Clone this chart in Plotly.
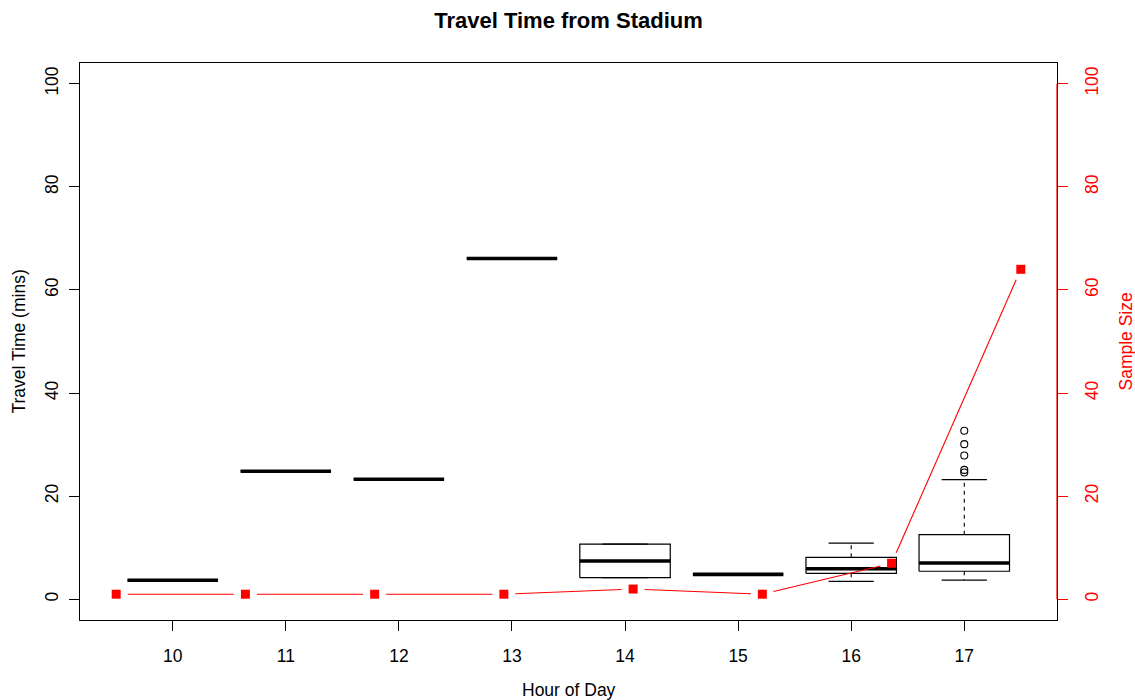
import math
import plotly.graph_objects as go

# Travel time from the stadium by hour of day (minutes)
hours = [10, 11, 12, 13, 14, 15, 16, 17]
tt_low = [3.7, 24.85, 23.3, 66.1, 4.2, 4.85, 3.5, 3.75]      # lower whisker
tt_q1 = [3.7, 24.85, 23.3, 66.1, 4.2, 4.85, 5.05, 5.45]
tt_median = [3.7, 24.85, 23.3, 66.1, 7.45, 4.85, 5.95, 7.05]
tt_q3 = [3.7, 24.85, 23.3, 66.1, 10.7, 4.85, 8.15, 12.55]
tt_high = [3.7, 24.85, 23.3, 66.1, 10.7, 4.85, 10.9, 23.2]   # upper whisker
outlier_hour = [17, 17, 17, 17, 17]
outlier_values = [24.6, 25.1, 27.9, 30.1, 32.7]

# Number of trips observed in each hour
sample_size = [1, 1, 1, 1, 2, 1, 7, 64]

FONT = "Liberation Sans, Arial, sans-serif"
RED = "#FF0000"
W, H = 1135, 700
M = dict(l=80, r=78, t=63, b=80)
Y_RANGE = [-4, 104]
X_RANGE = [0.18, 8.82]
X2_RANGE = [0.72, 8.28]

pos = list(range(1, len(hours) + 1))
HALF_BOX = 0.4
HALF_CAP = 0.2

box_x, box_y = [], []
whisk_x, whisk_y = [], []
cap_x, cap_y = [], []
med_x, med_y = [], []
for p, lo, q1, md, q3, hi in zip(pos, tt_low, tt_q1, tt_median, tt_q3, tt_high):
    box_x += [p - HALF_BOX, p + HALF_BOX, p + HALF_BOX, p - HALF_BOX, p - HALF_BOX, None]
    box_y += [q1, q1, q3, q3, q1, None]
    whisk_x += [p, p, None, p, p, None]
    whisk_y += [q3, hi, None, q1, lo, None]
    cap_x += [p - HALF_CAP, p + HALF_CAP, None, p - HALF_CAP, p + HALF_CAP, None]
    cap_y += [hi, hi, None, lo, lo, None]
    med_x += [p - HALF_BOX, p + HALF_BOX, None]
    med_y += [md, md, None]

out_x = [pos[hours.index(h)] for h in outlier_hour]

fig = go.Figure()
fig.add_trace(go.Scatter(x=whisk_x, y=whisk_y, mode="lines",
                         line=dict(color="black", width=1.1, dash="4px,4px"),
                         hoverinfo="skip"))
fig.add_trace(go.Scatter(x=cap_x, y=cap_y, mode="lines",
                         line=dict(color="black", width=1.2), hoverinfo="skip"))
fig.add_trace(go.Scatter(x=box_x, y=box_y, mode="lines",
                         line=dict(color="black", width=1.2), hoverinfo="skip"))
fig.add_trace(go.Scatter(x=med_x, y=med_y, mode="lines",
                         line=dict(color="black", width=3.6), hoverinfo="skip"))
fig.add_trace(go.Scatter(x=out_x, y=outlier_values, mode="markers",
                         marker=dict(symbol="circle-open", size=7,
                                     color="black", line=dict(width=1.1)),
                         hoverinfo="skip"))

# Sample-size line drawn "both" style: points with gaps in the joining segments
plot_w = W - M["l"] - M["r"]
plot_h = H - M["t"] - M["b"]
px_x = plot_w / (X2_RANGE[1] - X2_RANGE[0])
px_y = plot_h / (Y_RANGE[1] - Y_RANGE[0])
GAP = 11.5
seg_x, seg_y = [], []
for i in range(len(pos) - 1):
    x0, y0, x1, y1 = pos[i], sample_size[i], pos[i + 1], sample_size[i + 1]
    L = math.hypot((x1 - x0) * px_x, (y1 - y0) * px_y)
    if L > 2 * GAP:
        t = GAP / L
        seg_x += [x0 + t * (x1 - x0), x1 - t * (x1 - x0), None]
        seg_y += [y0 + t * (y1 - y0), y1 - t * (y1 - y0), None]
fig.add_trace(go.Scatter(x=seg_x, y=seg_y, mode="lines", xaxis="x2", yaxis="y2",
                         line=dict(color=RED, width=1.1), hoverinfo="skip"))
fig.add_trace(go.Scatter(x=pos, y=sample_size, mode="markers", xaxis="x2", yaxis="y2",
                         marker=dict(symbol="square", size=9, color=RED),
                         hoverinfo="skip"))

FS = 17.5
axis_font = dict(family=FONT, size=FS, color="black")
fig.update_layout(
    width=W, height=H, margin=M,
    paper_bgcolor="white", plot_bgcolor="white",
    showlegend=False,
    font=dict(family=FONT, size=FS, color="black"),
    title=dict(text="<b>Travel Time from Stadium</b>", x=0.5, xref="paper",
               xanchor="center", y=1 - 20.5 / H, yref="container", yanchor="middle",
               font=dict(family=FONT, size=22, color="black")),
    xaxis=dict(range=X_RANGE, tickmode="array", tickvals=pos,
               ticktext=[str(h) for h in hours], ticks="outside", ticklen=10,
               tickcolor="black", tickwidth=1, showline=True, linecolor="black",
               linewidth=1, mirror=True, showgrid=False, zeroline=False,
               tickfont=axis_font, ticklabelstandoff=10),
    xaxis2=dict(range=X2_RANGE, overlaying="x", visible=False),
    yaxis=dict(range=Y_RANGE, tickmode="array", tickvals=[0, 20, 40, 60, 80, 100],
               ticks="outside", ticklen=10, tickcolor="black", tickwidth=1,
               tickangle=-90, showline=True, linecolor="black", linewidth=1,
               mirror=True, showgrid=False, zeroline=False, tickfont=axis_font,
               ticklabelstandoff=4),
    yaxis2=dict(range=Y_RANGE, overlaying="y", side="right", anchor="x",
                tickmode="array", tickvals=[0, 20, 40, 60, 80, 100],
                ticks="outside", ticklen=10, tickcolor=RED, tickwidth=1,
                tickangle=-90, showline=False, showgrid=False, zeroline=False,
                tickfont=dict(family=FONT, size=FS, color=RED),
                ticklabelstandoff=9),
    shapes=[dict(type="line", xref="paper", yref="y2", x0=1, x1=1, y0=0, y1=100,
                 line=dict(color=RED, width=1.2))],
    annotations=[
        dict(text="Hour of Day", xref="paper", yref="paper", x=0.5, y=0,
             xanchor="center", yanchor="middle", yshift=-70, showarrow=False,
             font=dict(family=FONT, size=FS, color="black")),
        dict(text="Travel Time (mins)", xref="paper", yref="paper", x=0, y=0.5,
             xanchor="center", yanchor="middle", xshift=-62, textangle=-90,
             showarrow=False, font=dict(family=FONT, size=FS, color="black")),
        dict(text="Sample Size", xref="paper", yref="paper", x=1, y=0.5,
             xanchor="center", yanchor="middle", xshift=68, textangle=-90,
             showarrow=False, font=dict(family=FONT, size=FS, color=RED)),
    ],
)

fig.write_html("out.html")
